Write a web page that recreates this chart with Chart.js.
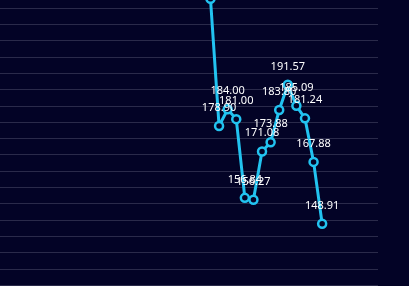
<!DOCTYPE html>
<html>
<head>
<meta charset="utf-8">
<script src="https://cdn.jsdelivr.net/npm/chart.js@4/dist/chart.umd.min.js"></script>
<style>
  html, body { margin: 0; padding: 0; background: #030326; }
  canvas { display: block; background: #030326; }
</style>
</head>
<body>
<canvas id="chart" width="409" height="286"></canvas>
<script>
// categories (axis hidden in the picture, only positions matter)
const categories = [
  '1', '2', '3', '4', '5', '6', '7', '8', '9', '10', '11',
  '12', '13', '14', '15', '16', '17', '18', '19', '20', '21', '22',
  '23', '24', '25', '26', '27', '28', '29', '30', '31', '32', '33',
  '34', '35', '36', '37', '38', '39', '40', '41', '42', '43', '44'
];

// series values, null where nothing is drawn
const values = [
  null, null, null, null, null, null, null, null, null, null, null,
  null, null, null, null, null, null, null, null, null, null, null,
  null, null, 217.9, 178.90, 184.00, 181.00, 156.84, 156.27, 171.08, 173.88, 183.80,
  191.57, 185.09, 181.24, 167.88, 148.91, null, null, null, null, null, null
];

// horizontal grid lines
const gridValues = [130, 135, 140, 145, 150, 155, 160, 165, 170, 175, 180, 185, 190, 195, 200, 205, 210, 215];

const yMin = 129.8;
const yMax = 217.55;

// value labels above each point
const valueLabels = {
  id: 'valueLabels',
  afterDatasetsDraw(chart) {
    const ctx = chart.ctx;
    const meta = chart.getDatasetMeta(0);
    ctx.save();
    ctx.font = '11px "Noto Sans", sans-serif';
    ctx.fillStyle = '#ffffff';
    ctx.textAlign = 'center';
    ctx.textBaseline = 'alphabetic';
    meta.data.forEach((pt, i) => {
      const v = values[i];
      if (v === null) return;
      ctx.fillText(v.toFixed(2), pt.x, pt.y - 15);
    });
    ctx.restore();
  }
};

new Chart(document.getElementById('chart'), {
  type: 'line',
  data: {
    labels: categories,
    datasets: [{
      data: values,
      borderColor: '#22c3f0',
      borderWidth: 3,
      pointRadius: 4,
      pointBorderWidth: 2.5,
      pointBorderColor: '#22c3f0',
      pointBackgroundColor: '#030326',
      tension: 0,
      spanGaps: false
    }]
  },
  options: {
    responsive: false,
    animation: false,
    layout: { autoPadding: false, padding: { left: 0, right: 31, top: 0, bottom: 0 } },
    plugins: {
      legend: { display: false },
      tooltip: { enabled: false }
    },
    scales: {
      x: {
        display: false,
        offset: true
      },
      y: {
        min: yMin,
        max: yMax,
        border: { display: false },
        ticks: { display: false },
        grid: { drawTicks: false, color: '#2a2a4a', lineWidth: 1 },
        afterBuildTicks(scale) {
          scale.ticks = gridValues.map(v => ({ value: v }));
        }
      }
    }
  },
  plugins: [valueLabels]
});
</script>
</body>
</html>
